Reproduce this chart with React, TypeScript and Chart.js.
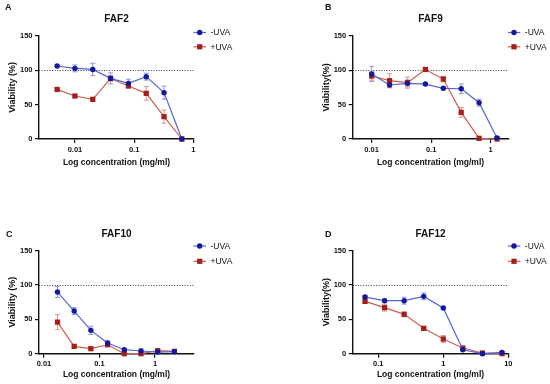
import React, { useEffect, useRef } from 'react';
import { Chart, registerables } from 'chart.js';

Chart.register(...registerables);

const FONT = '"Liberation Sans", Arial, Helvetica, sans-serif';

// ---------- shared ----------
const SERIES_LABELS = ['-UVA', '+UVA'];
const Y_MIN = 0;
const Y_MAX = 150;
const Y_STEP = 50;
const REF_VALUE = 100;

// ---------- Panel A : FAF2 ----------
const A_CONC = [0.005, 0.01, 0.02, 0.04, 0.08, 0.16, 0.32, 0.64];
const A_MINUS = [106, 102.6, 101, 88, 80.8, 90.5, 67.3, 0];
const A_MINUS_ERR = [1.5, 5, 9, 8, 6, 5, 9.5, 0];
const A_PLUS = [72, 62.4, 57.6, 88, 77, 66.3, 32.4, 0];
const A_PLUS_ERR = [1, 1, 2, 4, 3, 10, 9.5, 0];
const A_TICKS = [0.01, 0.1, 1];
const A_TICK_LABELS = ['0.01', '0.1', '1'];

// ---------- Panel B : FAF9 ----------
const B_CONC = [0.01, 0.02, 0.04, 0.08, 0.16, 0.32, 0.64, 1.28];
const B_MINUS = [94.4, 78.4, 80.8, 79.8, 73.6, 73, 52.7, 1.5];
const B_MINUS_ERR = [11, 4, 5, 1.5, 1.5, 7, 5, 1];
const B_PLUS = [91.5, 84.7, 81.8, 101, 87, 38.7, 1, 0];
const B_PLUS_ERR = [6, 10, 8, 1, 4, 7, 0, 0];
const B_TICKS = [0.01, 0.1, 1];
const B_TICK_LABELS = ['0.01', '0.1', '1'];

// ---------- Panel C : FAF10 ----------
const C_CONC = [0.0175, 0.035, 0.07, 0.14, 0.28, 0.56, 1.12, 2.24];
const C_MINUS = [89.8, 62.1, 34, 15.5, 5.8, 3.9, 2.4, 2.9];
const C_MINUS_ERR = [8, 5, 6, 3, 1.5, 3, 2, 2];
const C_PLUS = [46, 10.7, 7.3, 13, 0, 0, 4.4, 3.4];
const C_PLUS_ERR = [11, 2, 1.5, 2, 0, 0.5, 2, 1.5];
const C_TICKS = [0.01, 0.1, 1];
const C_TICK_LABELS = ['0.01', '0.1', '1'];

// ---------- Panel D : FAF12 ----------
const D_CONC = [0.0625, 0.125, 0.25, 0.5, 1, 2, 4, 8];
const D_MINUS = [82.5, 77.2, 77.2, 83.5, 66.5, 5.8, 0, 1.9];
const D_MINUS_ERR = [2, 2, 5, 5, 1, 1.5, 0.5, 1];
const D_PLUS = [76.2, 67, 57.3, 36.9, 21.4, 8.3, 1, 0];
const D_PLUS_ERR = [2, 5, 3.5, 2, 5, 1.5, 1, 0];
const D_TICKS = [0.1, 1, 10];
const D_TICK_LABELS = ['0.1', '1', '10'];

const BLUE_PT = '#14189a';
const BLUE_LINE = '#5565d6';
const BLUE_ERR = '#8d97e2';
const RED_PT = '#a31e1c';
const RED_LINE = '#cb5e52';
const RED_ERR = '#e0968f';

const W = 275;
const H = 192;

type Panel = {
  letter: string;
  title: string;
  yTitle: string;
  conc: number[];
  minus: number[];
  minusErr: number[];
  plus: number[];
  plusErr: number[];
  ticks: number[];
  tickLabels: string[];
  xMin: number;
  xMax: number;
  pos: { left: number; top: number };
  plot: { l: number; r: number; t: number; b: number };
  letterXY: [number, number];
  titleY: number;
  xTitleY: number;
  legendY: [number, number];
};

const PANELS: Panel[] = [
  {
    letter: 'A', title: 'FAF2', yTitle: 'Viability (%)',
    conc: A_CONC, minus: A_MINUS, minusErr: A_MINUS_ERR, plus: A_PLUS, plusErr: A_PLUS_ERR,
    ticks: A_TICKS, tickLabels: A_TICK_LABELS, xMin: 0.00247, xMax: 1.026,
    pos: { left: 0, top: 0 }, plot: { l: 39, r: 194, t: 35.7, b: 139 },
    letterXY: [5, 7.5], titleY: 19.3, xTitleY: 162.5, legendY: [32.5, 46.8],
  },
  {
    letter: 'B', title: 'FAF9', yTitle: 'Viability(%)',
    conc: B_CONC, minus: B_MINUS, minusErr: B_MINUS_ERR, plus: B_PLUS, plusErr: B_PLUS_ERR,
    ticks: B_TICKS, tickLabels: B_TICK_LABELS, xMin: 0.0048, xMax: 1.98,
    pos: { left: 275, top: 0 }, plot: { l: 77.7, r: 233.3, t: 35.7, b: 139 },
    letterXY: [50, 7.5], titleY: 19.3, xTitleY: 162.5, legendY: [32.5, 46.8],
  },
  {
    letter: 'C', title: 'FAF10', yTitle: 'Viability (%)',
    conc: C_CONC, minus: C_MINUS, minusErr: C_MINUS_ERR, plus: C_PLUS, plusErr: C_PLUS_ERR,
    ticks: C_TICKS, tickLabels: C_TICK_LABELS, xMin: 0.00813, xMax: 5.05,
    pos: { left: 0, top: 192 }, plot: { l: 39, r: 194, t: 58.7, b: 161.7 },
    letterXY: [6, 42.7], titleY: 42.7, xTitleY: 183, legendY: [54, 69.3],
  },
  {
    letter: 'D', title: 'FAF12', yTitle: 'Viability(%)',
    conc: D_CONC, minus: D_MINUS, minusErr: D_MINUS_ERR, plus: D_PLUS, plusErr: D_PLUS_ERR,
    ticks: D_TICKS, tickLabels: D_TICK_LABELS, xMin: 0.0404, xMax: 10,
    pos: { left: 275, top: 192 }, plot: { l: 77.7, r: 233.3, t: 58.7, b: 161.7 },
    letterXY: [50, 42.7], titleY: 42.7, xTitleY: 183, legendY: [54, 69.3],
  },
];

function drawMarker(ctx: CanvasRenderingContext2D, style: string, x: number, y: number, color: string) {
  ctx.fillStyle = color;
  ctx.beginPath();
  if (style === 'rect') {
    ctx.rect(x - 2.6, y - 2.6, 5.2, 5.2);
  } else {
    ctx.arc(x, y, 2.7, 0, Math.PI * 2);
  }
  ctx.fill();
}

const decorPlugin = {
  id: 'decor',
  beforeDatasetsDraw(chart: any, _args: any, opts: any) {
    const { ctx, chartArea, scales } = chart;
    const yScale = scales.y;
    // dotted reference line
    const yRef = yScale.getPixelForValue(opts.refValue);
    ctx.save();
    ctx.strokeStyle = '#3a3a3a';
    ctx.lineWidth = 1;
    ctx.setLineDash([1, 1.6]);
    ctx.beginPath();
    ctx.moveTo(chartArea.left, Math.round(yRef) + 0.5);
    ctx.lineTo(chartArea.right, Math.round(yRef) + 0.5);
    ctx.stroke();
    ctx.setLineDash([]);
    // error bars
    chart.data.datasets.forEach((ds: any, i: number) => {
      const meta = chart.getDatasetMeta(i);
      const errs: number[] = ds.errors || [];
      ctx.strokeStyle = ds.errorColor;
      ctx.lineWidth = 1;
      meta.data.forEach((el: any, j: number) => {
        const e = errs[j];
        if (!e) return;
        const v = ds.data[j].y;
        const yt = yScale.getPixelForValue(v + e);
        const yb = yScale.getPixelForValue(Math.max(0, v - e));
        const x = el.x;
        ctx.beginPath();
        ctx.moveTo(x, yt);
        ctx.lineTo(x, yb);
        ctx.moveTo(x - 2.5, yt);
        ctx.lineTo(x + 2.5, yt);
        ctx.moveTo(x - 2.5, yb);
        ctx.lineTo(x + 2.5, yb);
        ctx.stroke();
      });
    });
    ctx.restore();
  },
  afterDraw(chart: any, _args: any, opts: any) {
    const { ctx, chartArea } = chart;
    ctx.save();
    // panel letter
    ctx.fillStyle = '#111';
    ctx.font = `bold 9px ${FONT}`;
    ctx.textAlign = 'left';
    ctx.textBaseline = 'middle';
    ctx.fillText(opts.letter, opts.letterXY[0], opts.letterXY[1]);
    // legend
    const r = chartArea.right;
    chart.data.datasets.forEach((ds: any, i: number) => {
      const y = opts.legendY[i];
      ctx.strokeStyle = ds.borderColor;
      ctx.lineWidth = 1.2;
      ctx.beginPath();
      ctx.moveTo(r - 0.5, y);
      ctx.lineTo(r + 12, y);
      ctx.stroke();
      drawMarker(ctx, ds.pointStyle, r + 5.7, y, ds.pointBackgroundColor);
      ctx.fillStyle = '#111';
      ctx.font = `8.5px ${FONT}`;
      ctx.textAlign = 'left';
      ctx.textBaseline = 'middle';
      ctx.fillText(ds.label, r + 16.5, y + 0.5);
    });
    ctx.restore();
  },
};

function PanelChart({ p }: { p: Panel }) {
  const ref = useRef<HTMLCanvasElement | null>(null);
  useEffect(() => {
    if (!ref.current) return;
    const titleLH = 12;
    const xTitleLH = 8.5 * 1.2;
    const yTitleLH = 9 * 1.2;
    const chart = new Chart(ref.current, {
      type: 'line',
      data: {
        datasets: [
          {
            label: SERIES_LABELS[0],
            data: p.conc.map((x, i) => ({ x, y: p.minus[i] })),
            errors: p.minusErr,
            errorColor: BLUE_ERR,
            borderColor: BLUE_LINE,
            borderWidth: 1.2,
            pointStyle: 'circle',
            pointRadius: 2.7,
            pointBackgroundColor: BLUE_PT,
            pointBorderColor: BLUE_PT,
            pointBorderWidth: 0,
            tension: 0,
            clip: false,
          } as any,
          {
            label: SERIES_LABELS[1],
            data: p.conc.map((x, i) => ({ x, y: p.plus[i] })),
            errors: p.plusErr,
            errorColor: RED_ERR,
            borderColor: RED_LINE,
            borderWidth: 1.2,
            pointStyle: 'rect',
            pointRadius: 3.7,
            pointBackgroundColor: RED_PT,
            pointBorderColor: RED_PT,
            pointBorderWidth: 0,
            tension: 0,
            clip: false,
          } as any,
        ],
      },
      options: {
        responsive: false,
        animation: false,
        devicePixelRatio: 1,
        layout: {
          padding: { left: p.plot.l - 39, right: W - p.plot.r, top: 0, bottom: 0 },
        },
        scales: {
          x: {
            type: 'logarithmic',
            min: p.xMin,
            max: p.xMax,
            afterFit: (s: any) => { s.height = H - p.plot.b; },
            afterBuildTicks: (s: any) => { s.ticks = p.ticks.map((v) => ({ value: v })); },
            ticks: {
              callback: (_v: any, i: number) => p.tickLabels[i],
              font: { family: FONT, size: 7.5, weight: 'bold' },
              color: '#111',
              padding: 2,
              maxRotation: 0,
              autoSkip: false,
            },
            grid: { display: true, drawOnChartArea: false, drawTicks: true, tickLength: 4, color: '#111', lineWidth: 1.2 },
            border: { display: true, color: '#111', width: 1.4 },
            title: {
              display: true,
              text: 'Log concentration (mg/ml)',
              font: { family: FONT, size: 8.5, weight: 'bold' },
              color: '#111',
              padding: { top: 0, bottom: H - p.xTitleY - xTitleLH / 2 },
            },
          },
          y: {
            type: 'linear',
            min: Y_MIN,
            max: Y_MAX,
            afterFit: (s: any) => { s.width = 39; },
            ticks: {
              stepSize: Y_STEP,
              font: { family: FONT, size: 7.5, weight: 'bold' },
              color: '#111',
              padding: 2.5,
            },
            grid: { display: true, drawOnChartArea: false, drawTicks: true, tickLength: 4, color: '#111', lineWidth: 1.2 },
            border: { display: true, color: '#111', width: 1.4 },
            title: {
              display: true,
              text: p.yTitle,
              font: { family: FONT, size: 9, weight: 'bold' },
              color: '#111',
              padding: { top: 7.2, bottom: 0 },
            },
          },
        },
        plugins: {
          legend: { display: false },
          tooltip: { enabled: false },
          title: {
            display: true,
            text: p.title,
            fullSize: false,
            font: { family: FONT, size: 10, weight: 'bold' },
            color: '#111',
            padding: { top: p.titleY - titleLH / 2, bottom: p.plot.t - p.titleY - titleLH / 2 },
          },
          decor: {
            refValue: REF_VALUE,
            letter: p.letter,
            letterXY: p.letterXY,
            legendY: p.legendY,
          },
        } as any,
      } as any,
      plugins: [decorPlugin as any],
    });
    return () => chart.destroy();
  }, [p]);
  return (
    <div style={{ position: 'absolute', left: p.pos.left, top: p.pos.top, width: W, height: H }}>
      <canvas ref={ref} width={W} height={H} style={{ display: 'block', width: W, height: H }} />
    </div>
  );
}

export default function App() {
  return (
    <div style={{ position: 'absolute', left: 0, top: 0, width: 550, height: 384, background: '#fff', overflow: 'hidden' }}>
      {PANELS.map((p) => (
        <PanelChart key={p.letter} p={p} />
      ))}
    </div>
  );
}
